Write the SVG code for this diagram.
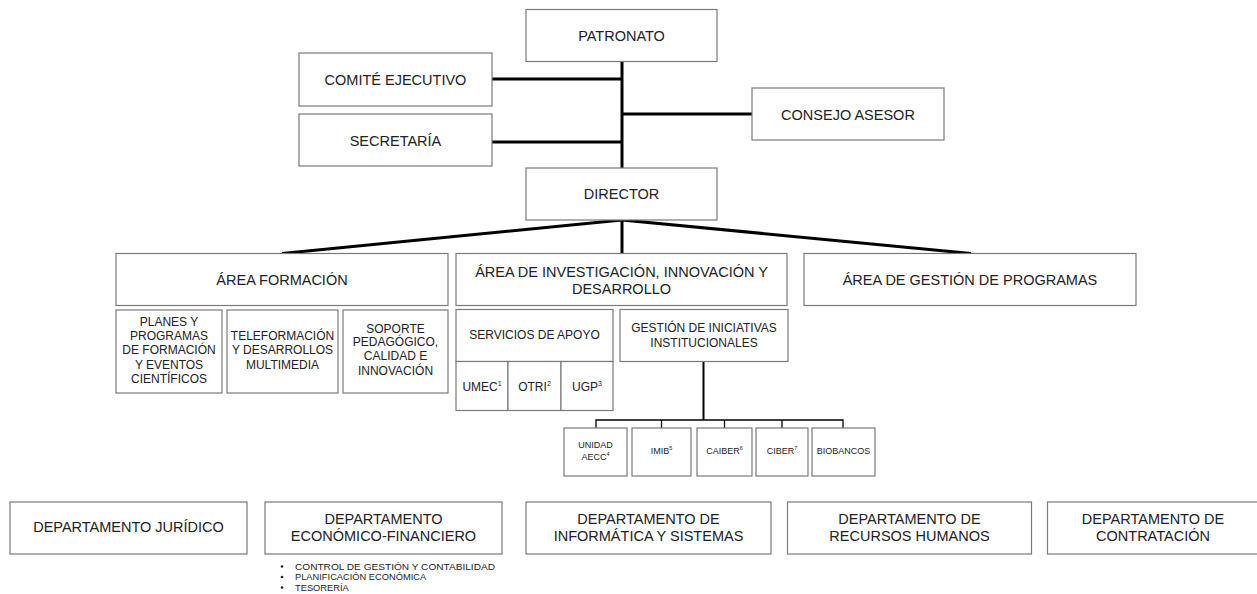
<svg xmlns="http://www.w3.org/2000/svg" width="1257" height="594" viewBox="0 0 1257 594">
<style>
  .box { fill: #ffffff; stroke: #7a7a7a; stroke-width: 1.2; }
  .t { font-family: "Liberation Sans", Arial, sans-serif; fill: #222222; text-anchor: middle; }
  .big { font-size: 14.5px; }
  .mid { font-size: 12px; }
  .sm { font-size: 9px; }
  .bl { font-family: "Liberation Sans", Arial, sans-serif; fill: #222222; font-size: 9.3px; }
  .thick { stroke: #000000; stroke-width: 3; fill: none; }
  .thin { stroke: #000000; stroke-width: 1.3; fill: none; }
</style>
<rect width="1257" height="594" fill="#ffffff"/>

<g id="connectors">
  <line class="thick" x1="622" y1="62" x2="622" y2="168"/>
  <line class="thick" x1="492" y1="79" x2="622" y2="79"/>
  <line class="thick" x1="622" y1="114" x2="752" y2="114"/>
  <line class="thick" x1="492" y1="142" x2="622" y2="142"/>
  <line class="thick" x1="622" y1="220" x2="282" y2="253.5"/>
  <line class="thick" x1="622" y1="220" x2="622" y2="253.5"/>
  <line class="thick" x1="622" y1="220" x2="971" y2="253.5"/>
  <line class="thick" x1="703.5" y1="362" x2="703.5" y2="420" style="stroke-width:2"/>
  <polyline class="thin" points="596,428 596,420 843,420 843,428"/>
  <line class="thin" x1="661.5" y1="420" x2="661.5" y2="428"/>
  <line class="thin" x1="724.5" y1="420" x2="724.5" y2="428"/>
  <line class="thin" x1="782" y1="420" x2="782" y2="428"/>
</g>

<g id="patronato">
  <rect class="box" x="526" y="9.5" width="191" height="52"/>
  <text class="t big" x="621.5" y="41">PATRONATO</text>
</g>
<g id="comite">
  <rect class="box" x="299" y="53" width="193" height="53"/>
  <text class="t big" x="395.5" y="84.5">COMITÉ EJECUTIVO</text>
</g>
<g id="consejo">
  <rect class="box" x="752" y="88" width="192" height="52"/>
  <text class="t big" x="848" y="119.5">CONSEJO ASESOR</text>
</g>
<g id="secretaria">
  <rect class="box" x="299" y="114" width="193" height="52"/>
  <text class="t big" x="395.5" y="145.5">SECRETARÍA</text>
</g>
<g id="director">
  <rect class="box" x="526" y="168" width="191" height="52"/>
  <text class="t big" x="621.5" y="198.5">DIRECTOR</text>
</g>

<g id="area-formacion">
  <rect class="box" x="116" y="253.5" width="332" height="52"/>
  <text class="t big" x="282" y="284.5">ÁREA FORMACIÓN</text>
</g>
<g id="area-investigacion">
  <rect class="box" x="456" y="253.5" width="331" height="52"/>
  <text class="t big" x="621.5" y="277">ÁREA DE INVESTIGACIÓN, INNOVACIÓN Y</text>
  <text class="t big" x="621.5" y="294">DESARROLLO</text>
</g>
<g id="area-gestion">
  <rect class="box" x="804" y="253.5" width="332" height="52"/>
  <text class="t big" x="970" y="285">ÁREA DE GESTIÓN DE PROGRAMAS</text>
</g>

<g id="planes">
  <rect class="box" x="116" y="310" width="106" height="83"/>
  <text class="t mid" x="169" y="326.3">PLANES Y</text>
  <text class="t mid" x="169" y="340.3">PROGRAMAS</text>
  <text class="t mid" x="169" y="354.3">DE FORMACIÓN</text>
  <text class="t mid" x="169" y="368.5">Y EVENTOS</text>
  <text class="t mid" x="169" y="382.5">CIENTÍFICOS</text>
</g>
<g id="teleformacion">
  <rect class="box" x="227" y="310" width="111" height="83"/>
  <text class="t mid" x="282.5" y="340">TELEFORMACIÓN</text>
  <text class="t mid" x="282.5" y="354">Y DESARROLLOS</text>
  <text class="t mid" x="282.5" y="368.5">MULTIMEDIA</text>
</g>
<g id="soporte">
  <rect class="box" x="343" y="310" width="105" height="83"/>
  <text class="t mid" x="395.5" y="332.5">SOPORTE</text>
  <text class="t mid" x="395.5" y="346.3">PEDAGÓGICO,</text>
  <text class="t mid" x="395.5" y="360">CALIDAD E</text>
  <text class="t mid" x="395.5" y="375">INNOVACIÓN</text>
</g>

<g id="servicios">
  <rect class="box" x="456" y="309.5" width="157" height="52"/>
  <text class="t mid" x="534.5" y="339">SERVICIOS DE APOYO</text>
</g>
<g id="umec">
  <rect class="box" x="456" y="361.5" width="52" height="49"/>
  <text class="t mid" x="482" y="390.5">UMEC<tspan font-size="7" dy="-5">1</tspan></text>
</g>
<g id="otri">
  <rect class="box" x="508" y="361.5" width="53" height="49"/>
  <text class="t mid" x="534.5" y="390.5">OTRI<tspan font-size="7" dy="-5">2</tspan></text>
</g>
<g id="ugp">
  <rect class="box" x="561" y="361.5" width="52" height="49"/>
  <text class="t mid" x="587" y="390.5">UGP<tspan font-size="7" dy="-5">3</tspan></text>
</g>

<g id="gestion-iniciativas">
  <rect class="box" x="620" y="309.5" width="168" height="52"/>
  <text class="t mid" x="704" y="331.5">GESTIÓN DE INICIATIVAS</text>
  <text class="t mid" x="704" y="346.5">INSTITUCIONALES</text>
</g>

<g id="unidad-aecc">
  <rect class="box" x="564" y="428" width="63" height="48"/>
  <text class="t sm" x="595.5" y="447.5">UNIDAD</text>
  <text class="t sm" x="595.5" y="459.5">AECC<tspan font-size="5.5" dy="-4">4</tspan></text>
</g>
<g id="imib">
  <rect class="box" x="632" y="428" width="59" height="48"/>
  <text class="t sm" x="661.5" y="453.5">IMIB<tspan font-size="5.5" dy="-4">5</tspan></text>
</g>
<g id="caiber">
  <rect class="box" x="697" y="428" width="55" height="48"/>
  <text class="t sm" x="724.5" y="453.5">CAIBER<tspan font-size="5.5" dy="-4">6</tspan></text>
</g>
<g id="ciber">
  <rect class="box" x="756" y="428" width="52" height="48"/>
  <text class="t sm" x="782" y="453.5">CIBER<tspan font-size="5.5" dy="-4">7</tspan></text>
</g>
<g id="biobancos">
  <rect class="box" x="812" y="428" width="63" height="48"/>
  <text class="t sm" x="843.5" y="453.5" font-size="8.5">BIOBANCOS</text>
</g>

<g id="dep-juridico">
  <rect class="box" x="10" y="502" width="237" height="52"/>
  <text class="t big" x="128.5" y="532">DEPARTAMENTO JURÍDICO</text>
</g>
<g id="dep-economico">
  <rect class="box" x="265" y="502" width="237" height="52"/>
  <text class="t big" x="383.5" y="523.5">DEPARTAMENTO</text>
  <text class="t big" x="383.5" y="540.5">ECONÓMICO-FINANCIERO</text>
  <circle cx="282" cy="566.5" r="1.3" fill="#222"/>
  <circle cx="282" cy="577" r="1.3" fill="#222"/>
  <circle cx="282" cy="587.5" r="1.3" fill="#222"/>
  <text class="bl" x="295" y="569.8" textLength="200" lengthAdjust="spacingAndGlyphs">CONTROL DE GESTIÓN Y CONTABILIDAD</text>
  <text class="bl" x="295" y="580.3">PLANIFICACIÓN ECONÓMICA</text>
  <text class="bl" x="295" y="590.8">TESORERÍA</text>
</g>
<g id="dep-informatica">
  <rect class="box" x="526" y="502" width="245" height="52"/>
  <text class="t big" x="648.5" y="523.5">DEPARTAMENTO DE</text>
  <text class="t big" x="648.5" y="540.5">INFORMÁTICA Y SISTEMAS</text>
</g>
<g id="dep-rrhh">
  <rect class="box" x="787.5" y="502" width="244" height="52"/>
  <text class="t big" x="909.5" y="523.5">DEPARTAMENTO DE</text>
  <text class="t big" x="909.5" y="540.5">RECURSOS HUMANOS</text>
</g>
<g id="dep-contratacion">
  <rect class="box" x="1047.5" y="502" width="212" height="52"/>
  <text class="t big" x="1153" y="523.5">DEPARTAMENTO DE</text>
  <text class="t big" x="1153" y="540.5">CONTRATACIÓN</text>
</g>
</svg>
